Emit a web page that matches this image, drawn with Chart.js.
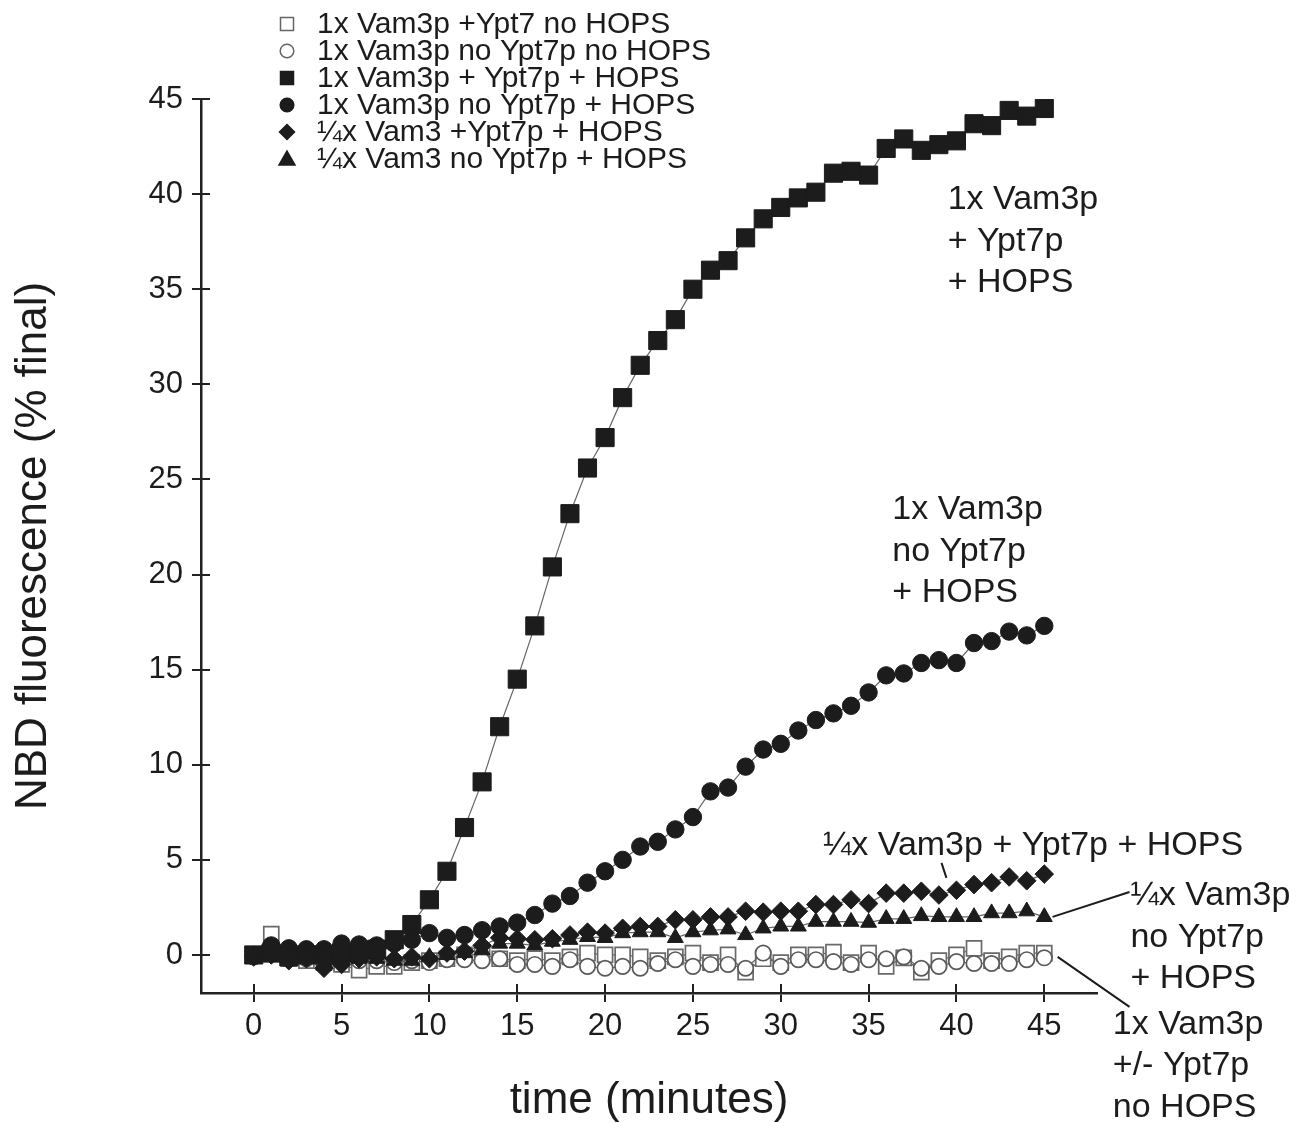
<!DOCTYPE html>
<html>
<head>
<meta charset="utf-8">
<title>NBD fluorescence</title>
<script src="https://cdn.jsdelivr.net/npm/chart.js@4.4.1/dist/chart.umd.min.js"></script>
<style>
  html, body { margin: 0; padding: 0; background: #fff; }
  #wrap { width: 1307px; height: 1123px; }
</style>
</head>
<body>
<div id="wrap"><canvas id="chart" width="1307" height="1123"></canvas></div>
<script>
/* NBD lipid-mixing curves, % of final signal over 45 minutes */

const times = [0, 1, 2, 3, 4, 5, 6, 7, 8, 9, 10, 11, 12, 13, 14, 15, 16, 17, 18, 19, 20, 21, 22,
    23, 24, 25, 26, 27, 28, 29, 30, 31, 32, 33, 34, 35, 36, 37, 38, 39, 40, 41, 42, 43, 44, 45];

// 1x Vam3p +Ypt7 no HOPS (open squares)
const yptNoHops = [0, 1.1, -0.2, -0.3, -0.4, -0.5, -0.8, -0.6, -0.6, -0.4, -0.3, -0.2, 0, 0, -0.2,
    -0.3, -0.2, -0.3, -0.1, 0.1, 0, 0, -0.1, -0.3, -0.1, 0.1, -0.4, 0, -0.9, -0.2, -0.4, 0, 0,
    0.15, -0.4, 0.1, -0.6, -0.15, -0.9, -0.3, 0, 0.35, -0.3, -0.1, 0.1, 0.1];
// 1x Vam3p no Ypt7p no HOPS (open circles)
const noYptNoHops = [-0.1, 0.1, -0.1, -0.2, -0.3, -0.2, -0.3, -0.3, -0.4, -0.3, -0.4, -0.25, -0.25,
    -0.3, -0.2, -0.5, -0.5, -0.6, -0.25, -0.6, -0.7, -0.6, -0.7, -0.45, -0.25, -0.6, -0.5, -0.5,
    -0.7, 0.1, -0.6, -0.25, -0.25, -0.35, -0.5, -0.25, -0.2, -0.1, -0.7, -0.6, -0.35, -0.45, -0.45,
    -0.45, -0.25, -0.15];
// 1x Vam3p + Ypt7p + HOPS (filled squares)
const yptHops = [0, 0.1, -0.1, 0, 0, 0.1, 0.1, 0.3, 0.8, 1.6, 2.9, 4.4, 6.7, 9.1, 12.0, 14.5, 17.3,
    20.4, 23.2, 25.6, 27.2, 29.3, 31.0, 32.3, 33.4, 35.0, 36.0, 36.5, 37.7, 38.7, 39.3, 39.8, 40.1,
    41.1, 41.2, 41.0, 42.4, 42.9, 42.3, 42.6, 42.8, 43.7, 43.6, 44.4, 44.1, 44.5];
// 1x Vam3p no Ypt7p + HOPS (filled circles)
const noYptHops = [0, 0.5, 0.35, 0.3, 0.3, 0.6, 0.55, 0.5, 0.6, 0.8, 1.15, 0.9, 1.05, 1.3, 1.5, 1.7,
    2.1, 2.7, 3.1, 3.8, 4.4, 5.0, 5.7, 5.95, 6.6, 7.25, 8.6, 8.8, 9.9, 10.8, 11.1, 11.8, 12.35,
    12.7, 13.1, 13.8, 14.7, 14.8, 15.35, 15.5, 15.35, 16.4, 16.5, 17.0, 16.8, 17.3];
// 1/4x Vam3 +Ypt7p + HOPS (diamonds)
const quarterYptHops = [-0.1, 0, -0.3, -0.2, -0.7, -0.5, -0.2, -0.1, -0.2, -0.1, -0.2, 0.1, 0.2,
    0.5, 0.9, 0.85, 0.8, 0.85, 1.05, 1.2, 1.15, 1.4, 1.5, 1.5, 1.85, 1.85, 2.0, 2.0, 2.3, 2.25,
    2.3, 2.3, 2.65, 2.65, 2.9, 2.7, 3.25, 3.25, 3.35, 3.15, 3.4, 3.7, 3.8, 4.1, 3.9, 4.25];
// 1/4x Vam3 no Ypt7p + HOPS (triangles)
const quarterNoYptHops = [-0.1, 0, -0.2, -0.1, -0.3, -0.2, -0.2, -0.2, -0.3, -0.3, -0.1, 0, 0.1,
    0.25, 0.6, 0.6, 0.5, 0.7, 0.8, 0.95, 0.9, 1.15, 1.2, 1.2, 0.9, 1.2, 1.3, 1.35, 1.05, 1.4, 1.5,
    1.5, 1.75, 1.75, 1.75, 1.7, 1.9, 1.9, 2.05, 2.0, 2.0, 2.0, 2.2, 2.2, 2.3, 2.0];

const xTickValues = [0, 5, 10, 15, 20, 25, 30, 35, 40, 45];
const yTickValues = [0, 5, 10, 15, 20, 25, 30, 35, 40, 45];

const legendLabels = [
    '1x Vam3p +Ypt7 no HOPS',
    '1x Vam3p no Ypt7p no HOPS',
    '1x Vam3p + Ypt7p + HOPS',
    '1x Vam3p no Ypt7p + HOPS',
    '\u00BCx Vam3 +Ypt7p + HOPS',
    '\u00BCx Vam3 no Ypt7p + HOPS',
];

// callout texts, anchored in data units
const callouts = [
    { x: 39.5, y: 39.7, lines: ['1x Vam3p', '+ Ypt7p', '+ HOPS'] },
    { x: 36.35, y: 23.4, lines: ['1x Vam3p', 'no Ypt7p', '+ HOPS'] },
    { x: 32.4, y: 5.73, lines: ['\u00BCx Vam3p + Ypt7p + HOPS'] },
    { x: 49.9, y: 3.1, lines: ['\u00BCx Vam3p', 'no Ypt7p', '+ HOPS'] },
    { x: 48.9, y: -3.65, lines: ['1x Vam3p', '+/- Ypt7p', 'no HOPS'] },
];
const leaders = [
    [39.15, 4.84, 39.43, 4.05],
    [45.47, 2.0, 49.85, 3.31],
    [45.76, -0.1, 49.85, -2.73],
];

const FONT = '"Liberation Sans", Arial, Helvetica, sans-serif';
const INK = '#1c1c1c';

function pts(values) {
    return values.map(function (v, i) { return { x: times[i], y: v }; });
}

function series(label, values, style, opts) {
    return Object.assign({
        label: label,
        data: pts(values),
        pointStyle: style,
        borderColor: '#666',
        borderWidth: 1.2,
        pointBackgroundColor: INK,
        pointBorderColor: INK,
        pointBorderWidth: 1,
        pointRadius: 8.5,
        pointHoverRadius: 8.5,
        fill: false,
        tension: 0,
    }, opts);
}

const datasets = [
    series(legendLabels[0], yptNoHops, 'rect',
        { pointRadius: 10.6, pointBackgroundColor: '#fff', pointBorderColor: '#6a6a6a', pointBorderWidth: 1.7, order: 6 }),
    series(legendLabels[1], noYptNoHops, 'circle',
        { pointRadius: 7.7, pointBackgroundColor: '#fff', pointBorderColor: '#5a5a5a', pointBorderWidth: 1.7, order: 5 }),
    series(legendLabels[2], yptHops, 'rect', { pointRadius: 12.8, order: 1 }),
    series(legendLabels[3], noYptHops, 'circle', { pointRadius: 8.7, order: 2 }),
    series(legendLabels[4], quarterYptHops, 'rectRot', { pointRadius: 9.3, order: 3 }),
    series(legendLabels[5], quarterNoYptHops, 'triangle', { pointRadius: 9.2, order: 4 }),
];

function legendMarker(ctx, style, filled, x, y) {
    ctx.save();
    ctx.fillStyle = filled ? INK : '#fff';
    ctx.strokeStyle = filled ? INK : '#666';
    ctx.lineWidth = 1.5;
    ctx.beginPath();
    if (style === 'rect') {
        ctx.rect(x - 6.5, y - 6.5, 13, 13);
    } else if (style === 'circle') {
        ctx.arc(x, y, 6.8, 0, Math.PI * 2);
    } else if (style === 'rectRot') {
        ctx.moveTo(x, y - 7.5); ctx.lineTo(x + 7.5, y); ctx.lineTo(x, y + 7.5); ctx.lineTo(x - 7.5, y);
        ctx.closePath();
    } else {
        ctx.moveTo(x, y - 8); ctx.lineTo(x + 8, y + 6); ctx.lineTo(x - 8, y + 6);
        ctx.closePath();
    }
    ctx.fill();
    ctx.stroke();
    ctx.restore();
}

const decorations = {
    id: 'decorations',
    afterDraw: function (chart) {
        const ctx = chart.ctx;
        const xs = chart.scales.x;
        const ys = chart.scales.y;

        // inner half of the crossing tick marks
        ctx.save();
        ctx.strokeStyle = '#222';
        ctx.lineWidth = 2;
        ctx.beginPath();
        xs.ticks.forEach(function (t) {
            const px = Math.round(xs.getPixelForValue(t.value));
            ctx.moveTo(px, xs.top);
            ctx.lineTo(px, xs.top - 9);
        });
        ys.ticks.forEach(function (t) {
            const py = Math.round(ys.getPixelForValue(t.value));
            ctx.moveTo(ys.right, py);
            ctx.lineTo(ys.right + 9, py);
        });
        ctx.stroke();

        // callouts
        ctx.fillStyle = INK;
        ctx.font = '34px ' + FONT;
        ctx.textAlign = 'left';
        ctx.textBaseline = 'middle';
        callouts.forEach(function (c) {
            const px = xs.getPixelForValue(c.x);
            const py = ys.getPixelForValue(c.y);
            c.lines.forEach(function (line, i) {
                ctx.fillText(line, px, py + i * 41.5);
            });
        });
        ctx.strokeStyle = INK;
        ctx.lineWidth = 2;
        ctx.beginPath();
        leaders.forEach(function (l) {
            ctx.moveTo(xs.getPixelForValue(l[0]), ys.getPixelForValue(l[1]));
            ctx.lineTo(xs.getPixelForValue(l[2]), ys.getPixelForValue(l[3]));
        });
        ctx.stroke();

        // legend block, top left
        ctx.font = '30px ' + FONT;
        chart.data.datasets.forEach(function (ds, i) {
            const y = 24 + i * 27;
            const filled = ds.pointBackgroundColor !== '#fff';
            legendMarker(ctx, ds.pointStyle, filled, 287, y);
            ctx.fillStyle = INK;
            ctx.fillText(ds.label, 317, y + 1);
        });
        ctx.restore();
    },
};

new Chart(document.getElementById('chart'), {
    type: 'line',
    data: { datasets: datasets },
    options: {
        responsive: false,
        animation: false,
        layout: { padding: { top: 99, right: 210, left: 0, bottom: 0 } },
        plugins: {
            legend: { display: false },
            tooltip: { enabled: false },
        },
        scales: {
            x: {
                type: 'linear',
                min: -3,
                max: 48,
                afterFit: function (s) { s.height = 130; },
                afterBuildTicks: function (s) {
                    s.ticks = xTickValues.map(function (v) { return { value: v }; });
                },
                border: { display: true, color: '#222', width: 2.5 },
                grid: { drawOnChartArea: false, drawTicks: true, tickLength: 9, color: '#222', lineWidth: 2 },
                ticks: { color: INK, font: { family: FONT, size: 31 }, padding: 6, maxRotation: 0 },
                title: {
                    display: true,
                    text: 'time (minutes)',
                    color: INK,
                    font: { family: FONT, size: 44, lineHeight: 1 },
                    padding: { top: 0, bottom: 0 },
                },
            },
            y: {
                type: 'linear',
                min: -2,
                max: 45,
                afterFit: function (s) { s.width = 201; },
                afterBuildTicks: function (s) {
                    s.ticks = yTickValues.map(function (v) { return { value: v }; });
                },
                border: { display: true, color: '#222', width: 2.5 },
                grid: { drawOnChartArea: false, drawTicks: true, tickLength: 9, color: '#222', lineWidth: 2 },
                ticks: { color: INK, font: { family: FONT, size: 31 }, padding: 9 },
                title: {
                    display: true,
                    text: 'NBD fluorescence (% final)',
                    color: INK,
                    font: { family: FONT, size: 44, lineHeight: 1 },
                    padding: { top: 12, bottom: 0 },
                },
            },
        },
    },
    plugins: [decorations],
});
</script>
</body>
</html>
